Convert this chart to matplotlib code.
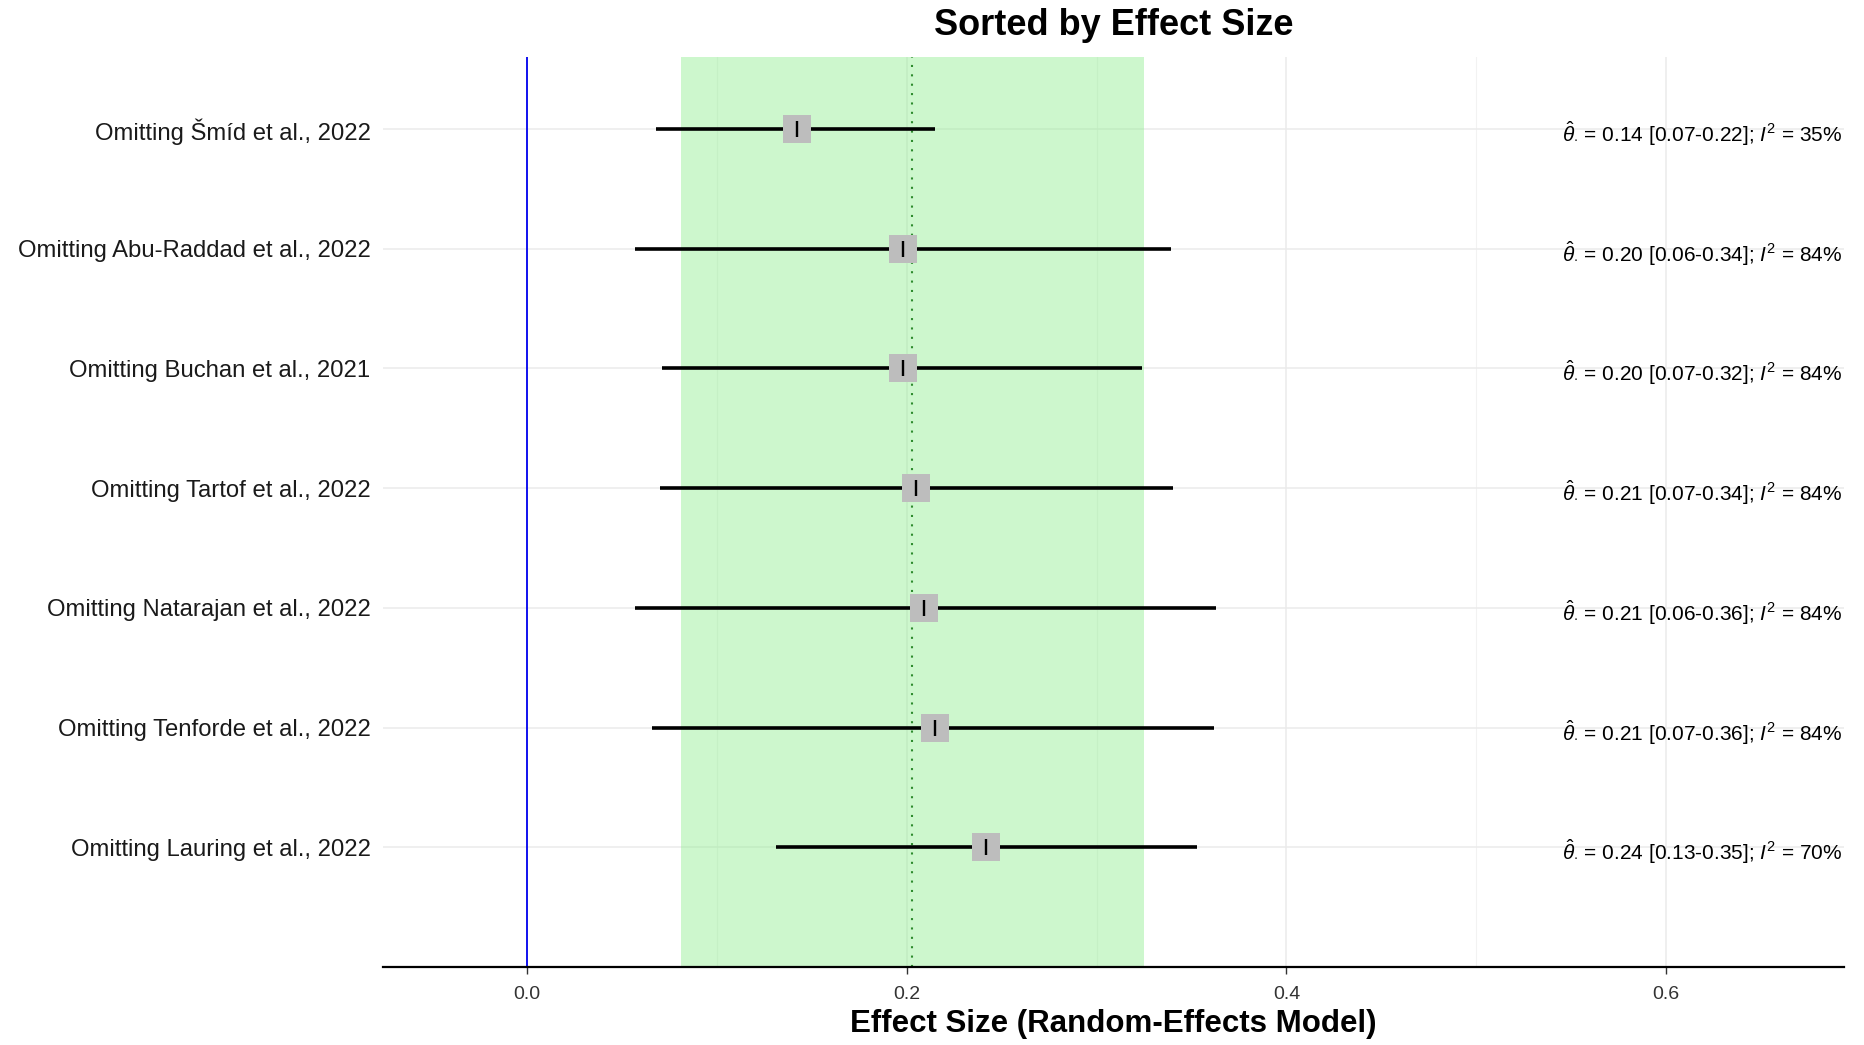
import matplotlib.pyplot as plt

plt.rcParams["font.family"] = ["Liberation Sans", "DejaVu Sans"]
plt.rcParams["mathtext.fontset"] = "custom"
plt.rcParams["mathtext.rm"] = "Liberation Sans"
plt.rcParams["mathtext.it"] = "Liberation Sans:italic"

# Leave-one-out results (top to bottom)
studies = [
    "Omitting Šmíd et al., 2022",
    "Omitting Abu-Raddad et al., 2022",
    "Omitting Buchan et al., 2021",
    "Omitting Tartof et al., 2022",
    "Omitting Natarajan et al., 2022",
    "Omitting Tenforde et al., 2022",
    "Omitting Lauring et al., 2022",
]
effect = [0.142, 0.198, 0.198, 0.205, 0.209, 0.215, 0.242]
ci_low = [0.068, 0.057, 0.071, 0.070, 0.057, 0.066, 0.131]
ci_high = [0.215, 0.339, 0.324, 0.340, 0.363, 0.362, 0.353]
labels = [
    "0.14 [0.07-0.22]; $I^2$ = 35%",
    "0.20 [0.06-0.34]; $I^2$ = 84%",
    "0.20 [0.07-0.32]; $I^2$ = 84%",
    "0.21 [0.07-0.34]; $I^2$ = 84%",
    "0.21 [0.06-0.36]; $I^2$ = 84%",
    "0.21 [0.07-0.36]; $I^2$ = 84%",
    "0.24 [0.13-0.35]; $I^2$ = 70%",
]

# pooled estimate and its interval
pooled = 0.203
pooled_low, pooled_high = 0.081, 0.325

fig = plt.figure(figsize=(18.65, 10.45), dpi=100)
ax = fig.add_axes([0.2054, 0.0746, 0.7833, 0.8709])

n = len(studies)
ypos = list(range(n, 0, -1))

ax.set_xlim(-0.0758, 0.6936)
ax.set_ylim(0, n + 0.6)

# grid
for x in [0.0, 0.2, 0.4, 0.6]:
    ax.axvline(x, color="#ebebeb", lw=1.1, zorder=0)
for x in [0.1, 0.3, 0.5]:
    ax.axvline(x, color="#f2f2f2", lw=0.8, zorder=0)
for y in ypos:
    ax.axhline(y, color="#ebebeb", lw=1.1, zorder=0)

ax.axvspan(pooled_low, pooled_high, color="#90ee90", alpha=0.45, lw=0, zorder=1)
ax.axvline(pooled, color="#2e8b2e", ls=(0, (1, 3.5)), lw=1.5, zorder=2)
ax.axvline(0, color="#0000ee", lw=1.3, zorder=2)

ax.hlines(ypos, ci_low, ci_high, color="black", lw=2.6, zorder=3)
ax.scatter(effect, ypos, marker="s", s=380, color="#bdbdbd", zorder=4, lw=0)
ax.scatter(effect, ypos, marker="|", s=120, color="black", lw=1.7, zorder=5)

for y, lab in zip(ypos, labels):
    ax.text(0.545, y - 0.04, r"$\hat{\theta}_{\cdot}$ = " + lab, ha="left",
            va="center", fontsize=15, color="black", zorder=6)

ax.set_yticks(ypos)
ax.set_yticklabels(studies, fontsize=17.2, color="#1a1a1a")
ax.tick_params(axis="y", length=0, pad=9)
ax.set_xticks([0.0, 0.2, 0.4, 0.6])
ax.set_xticklabels(["0.0", "0.2", "0.4", "0.6"], fontsize=14, color="#333333")
ax.tick_params(axis="x", length=5, width=1, color="#333333", pad=9)

for s in ["top", "right", "left"]:
    ax.spines[s].set_visible(False)
ax.spines["bottom"].set_linewidth(1.6)
ax.spines["bottom"].set_color("black")

ax.set_xlabel("Effect Size (Random-Effects Model)", fontsize=22.5, fontweight="bold", labelpad=4)
ax.set_title("Sorted by Effect Size", fontsize=26, fontweight="bold", pad=16)

fig.savefig("out.png", dpi=100)
